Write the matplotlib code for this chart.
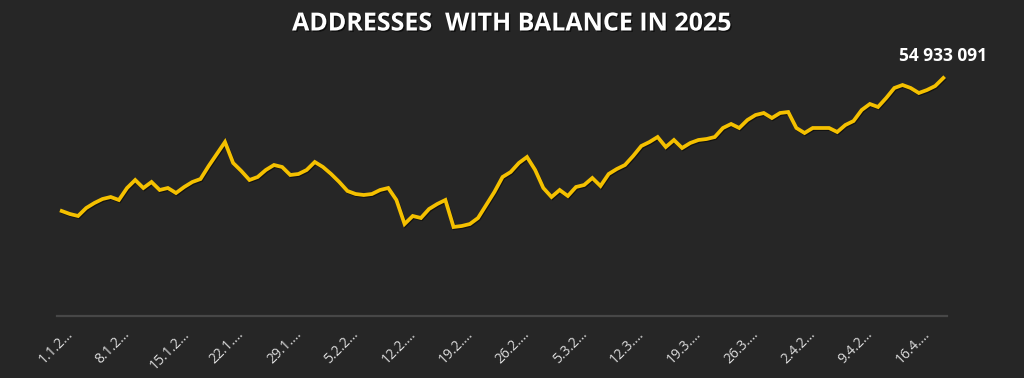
import datetime as dt
import numpy as np
import matplotlib
matplotlib.use('Agg')
import matplotlib.pyplot as plt
import matplotlib.patheffects as pe
from matplotlib.transforms import ScaledTranslation

# daily count of addresses with balance, 1 Jan 2025 .. 19 Apr 2025
START = dt.date(2025, 1, 1)
addresses = [
    53603000, 53573000, 53553000, 53633000, 53683000, 53723000, 53743000, 53713000,
    53833000, 53913000, 53833000, 53893000, 53813000, 53833000, 53783000, 53843000,
    53893000, 53923000, 54053000, 54173000, 54293000, 54083000, 54003000, 53913000,
    53943000, 54013000, 54063000, 54043000, 53963000, 53973000, 54013000, 54093000,
    54043000, 53973000, 53893000, 53803000, 53773000, 53763000, 53773000, 53813000,
    53833000, 53713000, 53473000, 53553000, 53533000, 53623000, 53673000, 53713000,
    53443000, 53453000, 53473000, 53533000, 53663000, 53793000, 53943000, 53993000,
    54083000, 54143000, 54013000, 53833000, 53743000, 53813000, 53753000, 53843000,
    53863000, 53933000, 53853000, 53973000, 54023000, 54063000, 54153000, 54253000,
    54293000, 54343000, 54243000, 54313000, 54233000, 54283000, 54313000, 54323000,
    54343000, 54433000, 54473000, 54433000, 54513000, 54563000, 54583000, 54533000,
    54583000, 54593000, 54433000, 54383000, 54433000, 54433000, 54433000, 54393000,
    54463000, 54503000, 54613000, 54673000, 54643000, 54733000, 54833000, 54863000,
    54833000, 54783000, 54813000, 54853000, 54933091,
]
tick_labels = ["1.1.2…", "8.1.2…", "15.1.2…", "22.1.…", "29.1.…", "5.2.2…", "12.2.…",
               "19.2.…", "26.2.…", "5.3.2…", "12.3.…", "19.3.…", "26.3.…", "2.4.2…",
               "9.4.2…", "16.4.…"]

BG = "#262626"
YELLOW = "#F4C000"

days = np.arange(len(addresses))
tick_days = days[::7][:len(tick_labels)]

fig = plt.figure(figsize=(10.24, 3.78), dpi=100, facecolor=BG)
ax = fig.add_axes([57 / 1024, 62 / 378, 890 / 1024, 256 / 378])
ax.set_facecolor(BG)

ax.plot(days, addresses, color=YELLOW, lw=2.7, solid_joinstyle="miter",
        path_effects=[pe.SimpleLineShadow(offset=(0.6, -0.8), shadow_color="black", alpha=0.5),
                      pe.Normal()])

ax.set_xlim(-0.58, 108.45)
ax.set_ylim(52553000, 55113000)

for side in ["top", "left", "right"]:
    ax.spines[side].set_visible(False)
ax.spines["bottom"].set_color("#474747")
ax.spines["bottom"].set_linewidth(1.6)
ax.set_yticks([])

ax.set_xticks(tick_days)
ax.set_xticklabels(tick_labels, rotation=45, ha="center", va="top",
                   fontsize=10, color="#dcdcdc", family="Open Sans")
ax.tick_params(axis="x", length=0, pad=8)
shift = ScaledTranslation(-6 / 100, 0, fig.dpi_scale_trans)
for lbl in ax.get_xticklabels():
    lbl.set_transform(lbl.get_transform() + shift)

last = addresses[-1]
ax.annotate("{:,}".format(last).replace(",", " "), xy=(days[-1], last),
            xytext=(0, 9), textcoords="offset points", ha="center", va="bottom",
            fontsize=12.5, fontweight="bold", color="white", family="Open Sans",
            annotation_clip=False)

fig.text(0.5, 1 - 24 / 378, "ADDRESSES  WITH BALANCE IN 2025", ha="center", va="center",
         fontsize=18, fontweight="bold", color="white", family="Open Sans",
         path_effects=[pe.withSimplePatchShadow(offset=(1, -1), shadow_rgbFace="black", alpha=0.6)])

fig.savefig("out.png", dpi=100, facecolor=BG)
